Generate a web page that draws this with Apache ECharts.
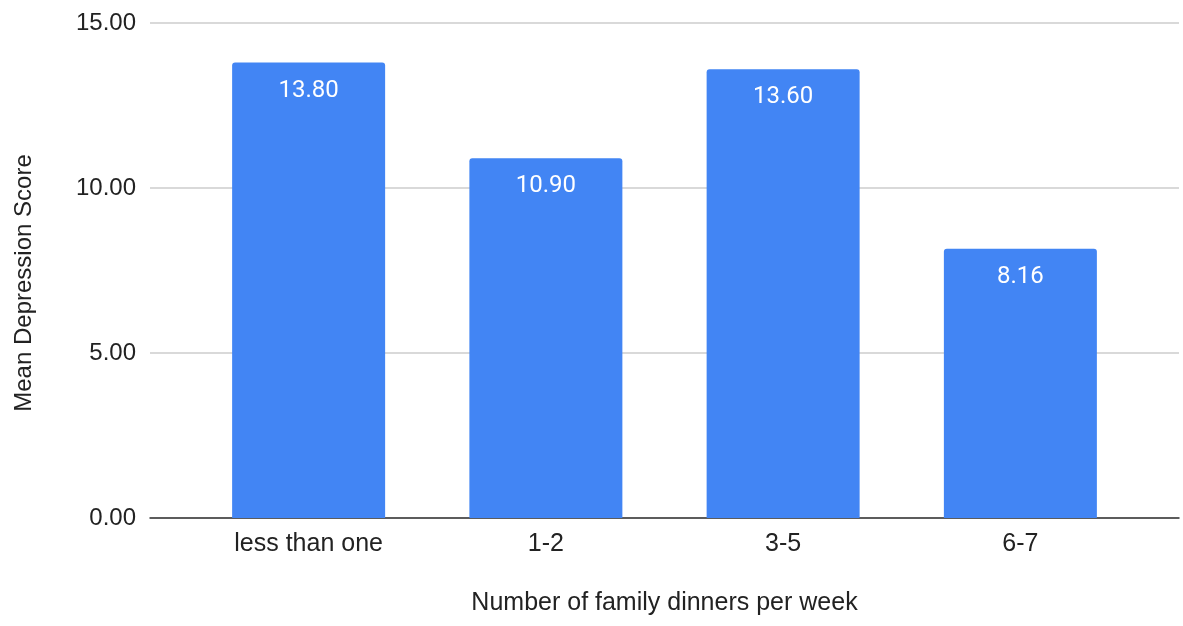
<!DOCTYPE html>
<html>
<head>
<meta charset="utf-8">
<script src="https://cdn.jsdelivr.net/npm/echarts@6/dist/echarts.min.js"></script>
<style>
  html, body { margin: 0; padding: 0; background: #fff; }
  #chart { width: 1183px; height: 626px; }
</style>
</head>
<body>
<div id="chart"></div>
<script>
// Mean depression score by number of family dinners per week
const categories = ['less than one', '1-2', '3-5', '6-7'];
const meanScores = [13.80, 10.90, 13.60, 8.16];
const yTicks = { min: 0, max: 15, interval: 5 };

const AXIS_FONT = '"Liberation Sans", Arial, sans-serif';
const LABEL_FONT = 'Roboto, "Noto Sans", sans-serif';
const TEXT = '#222222';

const chart = echarts.init(document.getElementById('chart'), null, { renderer: 'canvas' });

chart.setOption({
  animation: false,
  backgroundColor: '#ffffff',
  grid: [
    // full-width frame: gridlines, value labels and baseline
    { left: 150, right: 4, top: 23, bottom: 108 },
    // inner band holding the bars
    { left: 190, right: 44, top: 23, bottom: 108 }
  ],
  xAxis: [
    {
      gridIndex: 0, type: 'value', min: 0, max: 1,
      axisLine: { show: true, onZero: false, lineStyle: { color: '#333333', width: 1.5 } },
      axisTick: { show: false }, axisLabel: { show: false }, splitLine: { show: false }
    },
    {
      gridIndex: 1, type: 'category', data: categories,
      axisLine: { show: false }, axisTick: { show: false },
      axisLabel: { color: TEXT, fontSize: 25, margin: 14, fontFamily: AXIS_FONT },
      name: 'Number of family dinners per week',
      nameLocation: 'middle', nameGap: 73,
      nameTextStyle: { color: TEXT, fontSize: 25, fontFamily: AXIS_FONT }
    }
  ],
  yAxis: [
    {
      gridIndex: 0, type: 'value', min: yTicks.min, max: yTicks.max, interval: yTicks.interval,
      axisLine: { show: false }, axisTick: { show: false },
      axisLabel: {
        color: TEXT, fontSize: 24, margin: 14, fontFamily: AXIS_FONT,
        formatter: v => v.toFixed(2)
      },
      splitLine: { show: true, lineStyle: { color: '#cccccc', width: 1.5 } },
      name: 'Mean Depression Score',
      nameLocation: 'middle', nameGap: 114,
      nameTextStyle: { color: TEXT, fontSize: 24, fontFamily: AXIS_FONT, padding: [0, 25, 0, 0] }
    },
    {
      gridIndex: 1, type: 'value', min: yTicks.min, max: yTicks.max, interval: yTicks.interval,
      show: false, splitLine: { show: false }
    }
  ],
  series: [
    {
      type: 'bar',
      xAxisIndex: 1, yAxisIndex: 1,
      data: meanScores,
      barWidth: 153,
      itemStyle: { color: '#4285F4', borderRadius: [3, 3, 0, 0] },
      label: {
        show: true, position: 'insideTop', distance: 16,
        color: '#ffffff', fontSize: 24, fontFamily: LABEL_FONT,
        formatter: p => p.value.toFixed(2)
      },
      z: 3
    }
  ]
});
</script>
</body>
</html>
